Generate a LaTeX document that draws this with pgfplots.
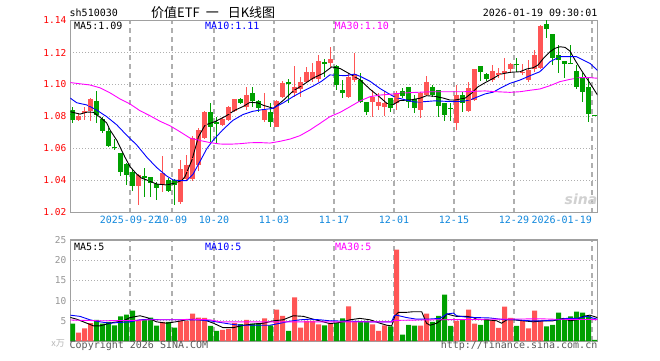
\documentclass[border=0pt]{standalone}
\usepackage{pgfplots}
\pgfplotsset{compat=1.18}
\usepackage{pgfplotstable}
\usepackage{fontspec}
\setmainfont{DejaVu Sans}
\newfontfamily\mono{DejaVu Sans Mono}
\newfontfamily\cjk{Noto Sans CJK SC}
\definecolor{kred}{RGB}{255,85,85}
\definecolor{kgreen}{RGB}{0,160,0}
\definecolor{bordergray}{RGB}{160,160,160}
\definecolor{gridgray}{RGB}{175,175,175}
\definecolor{dateblue}{RGB}{17,136,221}
\definecolor{maten}{RGB}{0,0,255}
\definecolor{mathirty}{RGB}{255,0,255}
\definecolor{volgray}{RGB}{150,150,150}

\pgfplotstableread{
i o h l c v
1 1.0778 1.0820 1.0774 1.0805 2.1
2 1.0829 1.0857 1.0778 1.0831 3.1
3 1.0834 1.0913 1.0774 1.0909 4.4
11 1.0366 1.0439 1.0247 1.0432 5.25
15 1.0372 1.0553 1.0330 1.0449 4.75
18 1.0265 1.0530 1.0255 1.0470 5.0
19 1.0411 1.0560 1.0400 1.0497 5.0
20 1.0411 1.0680 1.0400 1.0664 6.75
21 1.0497 1.0730 1.0460 1.0716 5.8
22 1.0664 1.0835 1.0660 1.0830 5.75
25 1.0747 1.0795 1.0740 1.0786 2.75
26 1.0778 1.0868 1.0774 1.0861 3.0
27 1.0836 1.0911 1.0830 1.0907 4.4
29 1.0861 1.0986 1.0841 1.0934 5.25
32 1.0778 1.0949 1.0768 1.0840 5.6
34 1.0732 1.0903 1.0732 1.0897 7.75
35 1.0920 1.1020 1.0915 1.1007 6.25
37 1.0945 1.1116 1.0920 1.0982 10.8
38 1.0970 1.1049 1.0924 1.1018 3.3
39 1.1018 1.1111 1.1007 1.1080 5.0
40 1.1032 1.1132 1.1018 1.1080 5.0
41 1.1032 1.1184 1.1018 1.1149 4.1
43 1.1132 1.1236 1.1111 1.1162 4.3
46 1.0922 1.1070 1.0914 1.1049 8.6
47 1.1030 1.1200 1.1018 1.1066 4.75
50 1.0889 1.0966 1.0797 1.0920 4.1
51 1.0866 1.0945 1.0840 1.0888 2.5
52 1.0862 1.0960 1.0803 1.0886 3.9
54 1.0887 1.0960 1.0841 1.0950 22.6
58 1.0840 1.0951 1.0790 1.0948 3.8
59 1.0934 1.1055 1.0930 1.1018 6.8
64 1.0761 1.0997 1.0715 1.0934 5.0
66 1.0837 1.1018 1.0830 1.0976 7.75
67 1.0903 1.1095 1.0900 1.1095 4.3
70 1.1028 1.1125 1.1018 1.1082 5.0
71 1.1059 1.1101 1.1040 1.1070 3.25
72 1.1076 1.1164 1.1028 1.1084 8.5
73 1.1097 1.1132 1.1070 1.1128 5.75
75 1.1076 1.1126 1.1059 1.1080 5.0
76 1.1028 1.1153 1.1018 1.1091 3.1
77 1.1097 1.1216 1.1080 1.1184 7.5
78 1.1101 1.1372 1.1095 1.1366 5.0
}\redK

\pgfplotstableread{
i o h l c v
0 1.0841 1.0861 1.0761 1.0778 4.3
4 1.0897 1.0959 1.0757 1.0809 5.2
5 1.0782 1.0799 1.0695 1.0709 4.3
6 1.0709 1.0726 1.0607 1.0616 4.75
7 1.0608 1.0657 1.0591 1.0605 3.9
8 1.0570 1.0570 1.0428 1.0455 6.1
9 1.0501 1.0507 1.0372 1.0432 6.5
10 1.0453 1.0466 1.0336 1.0366 7.5
12 1.0426 1.0480 1.0299 1.0424 5.4
13 1.0420 1.0424 1.0299 1.0382 5.8
14 1.0378 1.0393 1.0278 1.0355 3.8
16 1.0403 1.0414 1.0330 1.0336 4.75
17 1.0403 1.0407 1.0247 1.0372 3.3
23 1.0830 1.0886 1.0632 1.0736 3.75
24 1.0768 1.0799 1.0632 1.0751 2.5
28 1.0907 1.0917 1.0878 1.0882 4.2
30 1.0949 1.0986 1.0861 1.0899 4.3
31 1.0897 1.0903 1.0830 1.0851 4.4
33 1.0830 1.0882 1.0736 1.0768 3.9
36 1.1013 1.1032 1.0882 1.1001 2.5
42 1.1139 1.1157 1.1045 1.1136 3.9
44 1.1114 1.1122 1.0966 1.0997 4.4
45 1.0966 1.1028 1.0914 1.0950 5.6
48 1.1028 1.1070 1.0882 1.0891 4.75
49 1.0888 1.0893 1.0809 1.0828 5.0
53 1.0914 1.0918 1.0830 1.0851 3.6
55 1.0957 1.0980 1.0915 1.0930 1.6
56 1.0986 1.0986 1.0851 1.0888 4.0
57 1.0907 1.0934 1.0824 1.0851 3.8
60 1.0985 1.0997 1.0925 1.0934 4.75
61 1.0966 1.0966 1.0797 1.0863 6.25
62 1.0887 1.0887 1.0775 1.0811 11.5
63 1.0853 1.0882 1.0774 1.0850 3.75
65 1.0934 1.0955 1.0830 1.0882 5.4
68 1.1116 1.1116 1.1024 1.1080 4.0
69 1.1064 1.1070 1.1020 1.1032 5.4
74 1.1128 1.1164 1.1080 1.1126 3.75
79 1.1376 1.1403 1.1289 1.1347 3.6
80 1.1314 1.1314 1.1122 1.1164 4.0
81 1.1184 1.1247 1.1070 1.1153 7.0
82 1.1147 1.1147 1.1043 1.1128 5.4
83 1.1136 1.1247 1.1130 1.1132 6.1
84 1.1084 1.1122 1.0972 1.0986 7.25
85 1.1043 1.1070 1.0893 1.0951 7.0
86 1.0986 1.1038 1.0764 1.0813 6.25
87 1.0809 1.0809 1.0809 1.0809 0.25
}\greenK

\pgfplotsset{
  kax/.style={
    scale only axis, width=527pt,
    xmin=-0.367, xmax=87.467,
    axis line style={draw=bordergray, line width=1.3pt},
    major tick length=0pt,
    xtick={9.58,16.58,23.58,33.58,43.58,53.58,63.58,73.58,86.58},
    xticklabels={},
    xmajorgrids, ymajorgrids,
    x grid style={gridgray, line width=1.2pt, dash pattern=on 5pt off 4pt},
    y grid style={gridgray, line width=0.8pt, dash pattern=on 1pt off 2pt},
    yticklabel style={font=\mono\fontsize{9.5}{10}\selectfont, xshift=-0.5pt},
  },
  wick/.style={forget plot, draw=none, mark=none,
    error bars/.cd, y dir=both, y explicit, error mark=none,
    error bar style={draw=#1, line width=1pt, solid}},
  body/.style={forget plot, draw=none, mark=-, mark size=2.5pt,
    mark options={draw=#1, line width=1pt, solid},
    error bars/.cd, y dir=both, y explicit, error mark=none,
    error bar style={draw=#1, line width=5pt, solid}},
}

\begin{document}
\begin{tikzpicture}
\path[use as bounding box, fill=white] (0pt,0pt) rectangle (660pt,360pt);

% ---------- price panel ----------
\begin{axis}[kax, at={(70.3pt,147.5pt)}, anchor=south west, height=192pt,
  ymin=1.02, ymax=1.14,
  ytick={1.02,1.04,1.06,1.08,1.10,1.12,1.14},
  yticklabels={1.02,1.04,1.06,1.08,1.10,1.12,1.14},
  yticklabel style={text=red}]
\addplot[wick=kred] table[x=i, y expr={(\thisrow{h}+\thisrow{l})/2}, y error expr={(\thisrow{h}-\thisrow{l})/2}] {\redK};
\addplot[wick=kgreen] table[x=i, y expr={(\thisrow{h}+\thisrow{l})/2}, y error expr={(\thisrow{h}-\thisrow{l})/2}] {\greenK};
\addplot[body=kred] table[x=i, y expr={(\thisrow{o}+\thisrow{c})/2}, y error expr={abs(\thisrow{c}-\thisrow{o})/2}] {\redK};
\addplot[body=kgreen] table[x=i, y expr={(\thisrow{o}+\thisrow{c})/2}, y error expr={abs(\thisrow{c}-\thisrow{o})/2}] {\greenK};
% MA5
\addplot[black, line width=0.9pt, mark=none] coordinates {
(-0.37,1.0830) (1.25,1.0815) (2.5,1.0828) (3.5,1.0826) (4.6,1.0795) (5.7,1.0760) (6.25,1.0716) (7.4,1.0650) (7.9,1.0611) (8.75,1.0545) (9.6,1.0486) (10.7,1.0440) (11.5,1.0415) (12.4,1.0403) (14,1.0378) (15.7,1.0372) (17.1,1.0385) (18.2,1.0400) (18.75,1.0424) (19.9,1.0528) (21,1.0674) (22.1,1.0747) (23.75,1.0768) (25.4,1.0799) (27.1,1.0840) (28.4,1.0862) (29.6,1.0889) (30.9,1.0885) (31.8,1.0870) (33.5,1.0851) (35.1,1.0900) (36.8,1.0960) (38.5,1.1000) (40.1,1.1040) (41.8,1.1070) (43.2,1.1110) (44.6,1.1100) (46.25,1.1065) (47.9,1.1030) (49.6,1.0970) (51.25,1.0920) (52.4,1.0882) (53.5,1.0876) (54.6,1.0900) (56.25,1.0903) (57.9,1.0914) (59,1.0930) (60.4,1.0926) (61.8,1.0915) (62.9,1.0903) (63.75,1.0903) (65.4,1.0914) (66.5,1.0945) (67.6,1.0986) (68.75,1.1011) (70.1,1.1038) (71.25,1.1064) (72.9,1.1076) (74.6,1.1080) (75.7,1.1097) (76.8,1.1105) (77.6,1.1122) (78.5,1.1164) (79.6,1.1205) (80.4,1.1226) (81.25,1.1236) (82.1,1.1232) (82.9,1.1209) (83.75,1.1153) (84.6,1.1101) (85.7,1.1039) (86.8,1.0976) (87.5,1.0934)};
% MA10
\addplot[maten, line width=0.9pt, mark=none] coordinates {
(-0.37,1.0915) (0.7,1.0886) (2.4,1.0872) (4.0,1.0841) (5.7,1.0799) (7.4,1.0747) (9.0,1.0684) (10.7,1.0622) (12.4,1.0545) (14,1.0482) (15.7,1.0428) (16.8,1.0403) (17.9,1.0400) (19,1.0399) (20.1,1.0440) (21.4,1.0530) (22.4,1.0600) (23.4,1.0650) (25,1.0715) (26.7,1.0775) (28.4,1.0812) (30,1.0832) (31.5,1.0842) (33.3,1.0850) (35.1,1.0885) (36.8,1.0925) (38.5,1.0960) (40.1,1.0990) (41.5,1.1020) (42.9,1.1060) (43.75,1.1058) (45.5,1.1055) (47,1.1065) (48,1.1050) (49.6,1.1020) (51.25,1.0975) (52.6,1.0945) (53.75,1.0920) (55.4,1.0905) (57.1,1.0890) (58.75,1.0893) (60.4,1.0898) (62.1,1.0895) (63.75,1.0893) (65.4,1.0897) (66.5,1.0907) (67.6,1.0924) (68.75,1.0941) (70.1,1.0952) (71.25,1.0976) (72.9,1.1007) (74.6,1.1028) (76.25,1.1055) (77.9,1.1080) (79.6,1.1143) (81.25,1.1174) (82.9,1.1174) (84,1.1174) (85.1,1.1153) (86.25,1.1132) (87.5,1.1088)};
% MA30
\addplot[mathirty, line width=0.9pt, mark=none] coordinates {
(-0.37,1.1012) (2.9,1.0997) (4.6,1.0979) (6.25,1.0948) (7.9,1.0910) (9.6,1.0878) (11.25,1.0836) (12.9,1.0805) (14.6,1.0770) (16.25,1.0742) (17.6,1.0712) (19.6,1.0665) (21.25,1.0650) (22.9,1.0637) (24.6,1.0628) (26.25,1.0627) (27.9,1.0630) (29.6,1.0636) (31.25,1.0637) (32.9,1.0634) (34.6,1.0645) (36.25,1.0659) (37.9,1.0680) (39.6,1.0716) (41.25,1.0757) (42.9,1.0799) (44.6,1.0826) (46.25,1.0861) (47.9,1.0897) (49.6,1.0924) (51.25,1.0934) (52.9,1.0939) (54.6,1.0945) (56.25,1.0949) (58,1.0952) (60,1.0955) (65.4,1.0955) (68.75,1.0960) (70.1,1.0956) (72.9,1.0951) (74.6,1.0955) (76.25,1.0964) (77.9,1.0972) (79.6,1.0993) (81.25,1.1018) (82.9,1.1032) (84.6,1.1043) (86.25,1.1043) (87.5,1.1039)};
\end{axis}

% ---------- volume panel ----------
\begin{axis}[kax, at={(70.3pt,19pt)}, anchor=south west, height=101pt,
  ymin=0, ymax=25,
  ytick={5,10,15,20,25}, yticklabels={5,10,15,20,25},
  yticklabel style={text=volgray}]
\addplot[forget plot, ybar, bar width=5pt, bar shift=0pt, fill=kred, draw=none] table[x=i, y=v] {\redK};
\addplot[forget plot, ybar, bar width=5pt, bar shift=0pt, fill=kgreen, draw=none] table[x=i, y=v] {\greenK};
\addplot[black, line width=0.9pt, mark=none] coordinates {
(-0.37,5.83) (0.7,5.4) (2.4,4.4) (3.5,3.75) (4.6,3.75) (5.7,4.2) (6.8,4.6) (8.5,5.0) (9.6,5.8) (11.25,6.25) (12.4,5.8) (14,4.75) (15.7,4.4) (17.4,4.8) (19,5.25) (20.7,5.4) (22.4,5.0) (23.5,4.4) (25.1,3.3) (26.8,3.3) (28.5,3.9) (30.1,4.2) (31.8,4.4) (33.5,5.0) (35.1,5.25) (36.8,6.25) (38.5,6.1) (40.1,5.4) (41.8,4.75) (42.9,4.3) (44.6,4.6) (46.25,5.25) (47.9,5.6) (49.6,5.25) (51.25,4.4) (52.4,3.9) (53.2,3.75) (53.75,6.25) (54.3,7.1) (55.7,7.1) (56.8,7.25) (58.2,7.25) (59,4.4) (59.6,3.9) (60.7,4.4) (61.8,5.6) (62.4,6.7) (63.5,6.25) (64,6.1) (65.7,6.1) (66.8,5.8) (67.35,5.4) (69,5.25) (70.7,5.0) (71.5,4.4) (72.4,5.25) (73.5,5.25) (75.1,5.0) (76.8,4.75) (78.5,5.0) (80.1,5.0) (81.8,5.6) (82.9,5.0) (84,5.25) (85.1,6.1) (86.25,6.4) (87.47,5.8)};
\addplot[maten, line width=0.9pt, mark=none] coordinates {
(-0.37,6.4) (1.25,6.1) (2.9,5.25) (4.6,4.75) (6.25,4.4) (7.9,4.6) (9.6,4.75) (11.25,5.25) (12.9,5.4) (14.6,5.25) (16.25,5.25) (17.9,5.25) (19.6,5.25) (21.25,5.2) (22.9,5.0) (24.6,4.6) (26.25,4.2) (27.9,3.9) (29.6,3.9) (31.25,3.9) (32.9,3.9) (34.6,4.4) (36.25,4.9) (37.9,5.25) (39.6,5.4) (41.25,5.25) (42.9,5.0) (46.25,4.9) (49.6,4.75) (53.2,4.75) (53.6,6.25) (54.0,6.4) (55.7,5.8) (57.35,5.4) (59,5.4) (61.25,5.6) (62.4,6.7) (63.5,6.9) (64,6.25) (65.7,5.9) (67.35,5.8) (69.6,5.7) (71.25,5.4) (72.4,5.25) (74,5.25) (76.25,5.0) (78.5,5.0) (80.7,5.25) (82.35,5.6) (84,5.6) (85.7,6.1) (87.47,5.4)};
\addplot[mathirty, line width=0.9pt, mark=none] coordinates {
(-0.37,5.2) (4.6,5.0) (10.2,5.1) (12.9,5.25) (17.9,5.25) (19.6,5.4) (22.9,5.25) (24.6,4.75) (53.2,4.75) (53.6,5.1) (60,5.25) (65,5.3) (70,5.4) (75,5.45) (78,5.5) (80,5.4) (87.47,5.3)};
\end{axis}

% ---------- texts ----------
\begin{scope}[every node/.style={inner sep=0pt, font=\mono\fontsize{10}{12}\selectfont}]
\node[anchor=west] at (69.5pt,347pt) {sh510030};
\node[anchor=west, font=\cjk\fontsize{13}{15}\selectfont] at (151pt,347pt) {价值ETF\hspace{6pt}一\hspace{9pt}日K线图};
\node[anchor=east] at (597.5pt,347pt) {2026-01-19 09:30:01};
\node[anchor=west] at (74pt,334pt) {MA5:1.09};
\node[anchor=west, text=maten] at (205pt,334pt) {MA10:1.11};
\node[anchor=west, text=mathirty] at (334.5pt,334pt) {MA30:1.10};
\node[anchor=west] at (74pt,113pt) {MA5:5};
\node[anchor=west, text=maten] at (205pt,113pt) {MA10:5};
\node[anchor=west, text=mathirty] at (335pt,113pt) {MA30:5};
\node[text=dateblue] at (130pt,140pt) {2025-09-22};
\node[text=dateblue] at (172pt,140pt) {10-09};
\node[text=dateblue] at (214pt,140pt) {10-20};
\node[text=dateblue] at (274pt,140pt) {11-03};
\node[text=dateblue] at (334pt,140pt) {11-17};
\node[text=dateblue] at (394pt,140pt) {12-01};
\node[text=dateblue] at (454pt,140pt) {12-15};
\node[text=dateblue] at (514pt,140pt) {12-29};
\node[text=dateblue, anchor=east] at (592pt,140pt) {2026-01-19};
\node[anchor=east, text=volgray!70, font=\cjk\fontsize{9}{10}\selectfont] at (65pt,17pt) {x万};
\node[anchor=west, text=black!65] at (69.5pt,14pt) {Copyright 2026 SINA.COM};
\node[anchor=east, text=black!65] at (597.5pt,14pt) {http://finance.sina.com.cn};
\node[text=black!18, font=\bfseries\itshape\fontsize{14}{14}\selectfont] at (581pt,161pt) {sina};
\end{scope}
\end{tikzpicture}
\end{document}
